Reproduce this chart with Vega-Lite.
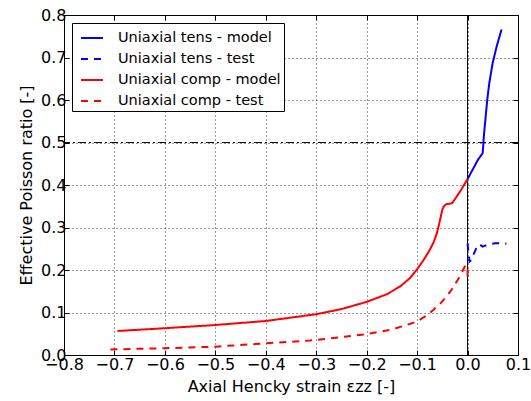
{
  "$schema": "https://vega.github.io/schema/vega-lite/v6.json",
  "autosize": "none",
  "width": 454,
  "height": 340,
  "padding": {"left": 64, "top": 15, "right": 13, "bottom": 46},
  "background": "white",
  "config": {
    "font": "DejaVu Sans",
    "view": {"stroke": "black", "strokeWidth": 1},
    "axis": {
      "labelFont": "DejaVu Sans",
      "labelFontSize": 16,
      "labelColor": "black",
      "labelOverlap": false,
      "labelBound": false,
      "labelFlush": false,
      "titleFont": "DejaVu Sans",
      "titleFontSize": 16,
      "titleFontWeight": "normal",
      "titleColor": "black",
      "tickColor": "black",
      "tickSize": -5,
      "tickWidth": 1,
      "domain": false,
      "gridColor": "black",
      "gridOpacity": 1,
      "gridWidth": 0.8,
      "gridDash": [1, 3]
    },
    "legend": {
      "labelFont": "DejaVu Sans",
      "labelFontSize": 14.5,
      "labelColor": "black"
    }
  },
  "datasets": {
    "curves": [
      {"series": "Uniaxial tens - model", "i": 1, "strain": 0.0, "nu": 0.414},
      {"series": "Uniaxial tens - model", "i": 2, "strain": 0.01, "nu": 0.436},
      {"series": "Uniaxial tens - model", "i": 3, "strain": 0.021, "nu": 0.46},
      {"series": "Uniaxial tens - model", "i": 4, "strain": 0.027, "nu": 0.47},
      {"series": "Uniaxial tens - model", "i": 5, "strain": 0.030, "nu": 0.475},
      {"series": "Uniaxial tens - model", "i": 6, "strain": 0.032, "nu": 0.51},
      {"series": "Uniaxial tens - model", "i": 7, "strain": 0.034, "nu": 0.537},
      {"series": "Uniaxial tens - model", "i": 8, "strain": 0.039, "nu": 0.60},
      {"series": "Uniaxial tens - model", "i": 9, "strain": 0.043, "nu": 0.639},
      {"series": "Uniaxial tens - model", "i": 10, "strain": 0.0496, "nu": 0.686},
      {"series": "Uniaxial tens - model", "i": 11, "strain": 0.0575, "nu": 0.725},
      {"series": "Uniaxial tens - model", "i": 12, "strain": 0.0674, "nu": 0.766},

      {"series": "Uniaxial tens - test", "i": 1, "strain": 0.0, "nu": 0.262},
      {"series": "Uniaxial tens - test", "i": 2, "strain": 0.002, "nu": 0.24},
      {"series": "Uniaxial tens - test", "i": 3, "strain": 0.004, "nu": 0.22},
      {"series": "Uniaxial tens - test", "i": 4, "strain": 0.006, "nu": 0.222},
      {"series": "Uniaxial tens - test", "i": 5, "strain": 0.01, "nu": 0.232},
      {"series": "Uniaxial tens - test", "i": 6, "strain": 0.015, "nu": 0.245},
      {"series": "Uniaxial tens - test", "i": 7, "strain": 0.02, "nu": 0.258},
      {"series": "Uniaxial tens - test", "i": 8, "strain": 0.024, "nu": 0.26},
      {"series": "Uniaxial tens - test", "i": 9, "strain": 0.03, "nu": 0.255},
      {"series": "Uniaxial tens - test", "i": 10, "strain": 0.036, "nu": 0.258},
      {"series": "Uniaxial tens - test", "i": 11, "strain": 0.045, "nu": 0.261},
      {"series": "Uniaxial tens - test", "i": 12, "strain": 0.055, "nu": 0.263},
      {"series": "Uniaxial tens - test", "i": 13, "strain": 0.065, "nu": 0.263},
      {"series": "Uniaxial tens - test", "i": 14, "strain": 0.077, "nu": 0.262},

      {"series": "Uniaxial comp - model", "i": 1, "strain": -0.694, "nu": 0.0565},
      {"series": "Uniaxial comp - model", "i": 2, "strain": -0.6, "nu": 0.063},
      {"series": "Uniaxial comp - model", "i": 3, "strain": -0.5, "nu": 0.0706},
      {"series": "Uniaxial comp - model", "i": 4, "strain": -0.4, "nu": 0.080},
      {"series": "Uniaxial comp - model", "i": 5, "strain": -0.3, "nu": 0.096},
      {"series": "Uniaxial comp - model", "i": 6, "strain": -0.25, "nu": 0.108},
      {"series": "Uniaxial comp - model", "i": 7, "strain": -0.2, "nu": 0.125},
      {"series": "Uniaxial comp - model", "i": 8, "strain": -0.16, "nu": 0.143},
      {"series": "Uniaxial comp - model", "i": 9, "strain": -0.134, "nu": 0.161},
      {"series": "Uniaxial comp - model", "i": 10, "strain": -0.115, "nu": 0.18},
      {"series": "Uniaxial comp - model", "i": 11, "strain": -0.101, "nu": 0.20},
      {"series": "Uniaxial comp - model", "i": 12, "strain": -0.088, "nu": 0.222},
      {"series": "Uniaxial comp - model", "i": 13, "strain": -0.075, "nu": 0.247},
      {"series": "Uniaxial comp - model", "i": 14, "strain": -0.067, "nu": 0.266},
      {"series": "Uniaxial comp - model", "i": 15, "strain": -0.061, "nu": 0.286},
      {"series": "Uniaxial comp - model", "i": 16, "strain": -0.055, "nu": 0.315},
      {"series": "Uniaxial comp - model", "i": 17, "strain": -0.050, "nu": 0.342},
      {"series": "Uniaxial comp - model", "i": 18, "strain": -0.047, "nu": 0.350},
      {"series": "Uniaxial comp - model", "i": 19, "strain": -0.042, "nu": 0.355},
      {"series": "Uniaxial comp - model", "i": 20, "strain": -0.035, "nu": 0.356},
      {"series": "Uniaxial comp - model", "i": 21, "strain": -0.030, "nu": 0.358},
      {"series": "Uniaxial comp - model", "i": 22, "strain": -0.022, "nu": 0.372},
      {"series": "Uniaxial comp - model", "i": 23, "strain": -0.012, "nu": 0.39},
      {"series": "Uniaxial comp - model", "i": 24, "strain": 0.0, "nu": 0.414},

      {"series": "Uniaxial comp - test", "i": 1, "strain": -0.708, "nu": 0.013},
      {"series": "Uniaxial comp - test", "i": 2, "strain": -0.6, "nu": 0.016},
      {"series": "Uniaxial comp - test", "i": 3, "strain": -0.5, "nu": 0.0196},
      {"series": "Uniaxial comp - test", "i": 4, "strain": -0.4, "nu": 0.0275},
      {"series": "Uniaxial comp - test", "i": 5, "strain": -0.313, "nu": 0.034},
      {"series": "Uniaxial comp - test", "i": 6, "strain": -0.25, "nu": 0.042},
      {"series": "Uniaxial comp - test", "i": 7, "strain": -0.2, "nu": 0.049},
      {"series": "Uniaxial comp - test", "i": 8, "strain": -0.15, "nu": 0.06},
      {"series": "Uniaxial comp - test", "i": 9, "strain": -0.101, "nu": 0.078},
      {"series": "Uniaxial comp - test", "i": 10, "strain": -0.08, "nu": 0.094},
      {"series": "Uniaxial comp - test", "i": 11, "strain": -0.068, "nu": 0.106},
      {"series": "Uniaxial comp - test", "i": 12, "strain": -0.055, "nu": 0.12},
      {"series": "Uniaxial comp - test", "i": 13, "strain": -0.042, "nu": 0.137},
      {"series": "Uniaxial comp - test", "i": 14, "strain": -0.032, "nu": 0.153},
      {"series": "Uniaxial comp - test", "i": 15, "strain": -0.022, "nu": 0.172},
      {"series": "Uniaxial comp - test", "i": 16, "strain": -0.012, "nu": 0.192},
      {"series": "Uniaxial comp - test", "i": 17, "strain": -0.006, "nu": 0.207},
      {"series": "Uniaxial comp - test", "i": 18, "strain": -0.003, "nu": 0.212},
      {"series": "Uniaxial comp - test", "i": 19, "strain": 0.0, "nu": 0.205},
      {"series": "Uniaxial comp - test", "i": 20, "strain": 0.0, "nu": 0.176}
    ]
  },
  "layer": [
    {
      "data": {"values": [{"nu": 0.5}]},
      "mark": {"type": "rule", "color": "black", "strokeWidth": 1, "strokeDash": [8, 3, 2, 3]},
      "encoding": {
        "y": {"field": "nu", "type": "quantitative", "scale": {"domain": [0, 0.8]},
          "axis": {"orient": "right", "labels": false, "grid": false, "title": null, "values": [0, 0.1, 0.2, 0.3, 0.4, 0.5, 0.6, 0.7, 0.8]}}
      }
    },
    {
      "data": {"values": [{"strain": 0}]},
      "mark": {"type": "rule", "color": "black", "strokeWidth": 1},
      "encoding": {
        "x": {"field": "strain", "type": "quantitative", "scale": {"domain": [-0.8, 0.1]},
          "axis": {"orient": "top", "labels": false, "grid": false, "title": null, "values": [-0.8, -0.7, -0.6, -0.5, -0.4, -0.3, -0.2, -0.1, 0, 0.1]}}
      }
    },
    {
      "data": {"name": "curves"},
      "mark": {"type": "line", "strokeWidth": 2},
      "encoding": {
        "x": {"field": "strain", "type": "quantitative",
          "scale": {"domain": [-0.8, 0.1], "nice": false},
          "axis": {"orient": "bottom", "title": "Axial Hencky strain εzz [-]", "format": ".1f",
            "values": [-0.8, -0.7, -0.6, -0.5, -0.4, -0.3, -0.2, -0.1, 0, 0.1], "labelPadding": 6, "titlePadding": 6, "grid": true}},
        "y": {"field": "nu", "type": "quantitative",
          "scale": {"domain": [0, 0.8], "nice": false},
          "axis": {"orient": "left", "title": "Effective Poisson ratio [-]", "format": ".1f",
            "values": [0, 0.1, 0.2, 0.3, 0.4, 0.5, 0.6, 0.7, 0.8], "labelPadding": 3, "titlePadding": 6, "grid": true}},
        "color": {"field": "series", "type": "nominal",
          "scale": {"domain": ["Uniaxial tens - model", "Uniaxial tens - test", "Uniaxial comp - model", "Uniaxial comp - test"],
            "range": ["#0000ff", "#0000ff", "#ff0000", "#ff0000"]},
          "legend": {"title": null, "orient": "top-left", "offset": 8, "padding": 3, "rowPadding": 2,
            "fillColor": "white", "strokeColor": "black", "cornerRadius": 0,
            "symbolType": "stroke", "symbolSize": 484, "symbolStrokeWidth": 2, "symbolOffset": 5, "labelOffset": 14, "labelLimit": 400}},
        "strokeDash": {"field": "series", "type": "nominal",
          "scale": {"domain": ["Uniaxial tens - model", "Uniaxial tens - test", "Uniaxial comp - model", "Uniaxial comp - test"],
            "range": [[1, 0], [7, 6], [1, 0], [7, 6]]},
          "legend": {"title": null, "orient": "top-left"}},
        "order": {"field": "i", "type": "quantitative"}
      }
    }
  ],
  "resolve": {"axis": {"x": "independent", "y": "independent"}}
}
